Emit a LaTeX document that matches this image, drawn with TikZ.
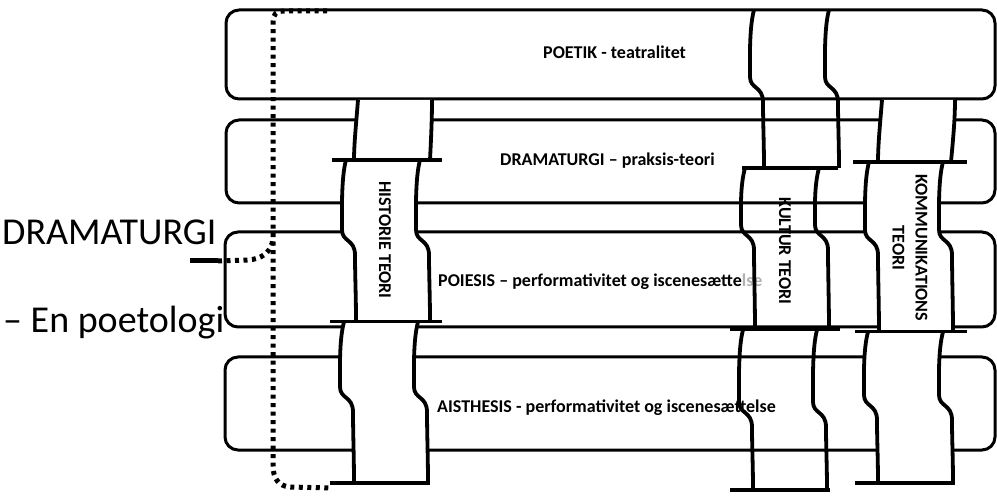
\documentclass[tikz,border=0pt]{standalone}
\usepackage{fontspec}
\setmainfont{Carlito}

% one wavy side of a ribbon piece: x, top, step, bottom
\newcommand\sidedown[4]{(#1+4,#2) .. controls (#1-1,#2+18) and (#1,#3-30) .. (#1,#3-15) .. controls (#1,#3-3) and (#1+13,#3-6) .. (#1+13,#3+10) .. controls (#1+13,#3+30) and (#1+14,#4-25) .. (#1+14,#4)}
\newcommand\sideup[4]{(#1+14,#4) .. controls (#1+14,#4-25) and (#1+13,#3+30) .. (#1+13,#3+10) .. controls (#1+13,#3-6) and (#1,#3-3) .. (#1,#3-15) .. controls (#1,#3-30) and (#1-1,#2+18) .. (#1+4,#2)}

\tikzset{
  band/.style={draw, line width=3pt, rounded corners=13pt},
  ribbon/.style={line width=3.8pt, line join=round},
  cutline/.style={line width=3.8pt},
  bandtext/.style={font=\fontsize{18}{23}\selectfont\bfseries, inner sep=0pt},
  dots/.style={line width=5pt, dash pattern=on 4pt off 4.5pt},
}

\begin{document}
\begin{tikzpicture}[x=1pt, y=-1pt]
    \useasboundingbox (0,0) rectangle (997,497);

    % Bands
    \draw[band] (226,10) rectangle (995,99);
    \draw[band] (226,120) rectangle (995,203);
    \draw[band] (225,232) rectangle (995,327);
    \draw[band] (225,357) rectangle (995,450);

    % Title
    \node[anchor=base west, inner sep=0pt, font=\fontsize{38}{40}\selectfont] (title) at (2,245) {DRAMATURGI};
    \node[anchor=base west, inner sep=0pt, font=\fontsize{38}{40}\selectfont] (subtitle) at (3,333) {– En poetologi};

    % Dotted bracket
    \coordinate (dash) at (190,261);
    \coordinate (dashend) at (218,261);
    \coordinate (topend) at (327,11);
    \coordinate (botend) at (330,488);
    \draw[line width=5pt] (dash) -- (dashend);
    \draw[dots] (topend) -- (285,11) .. controls (276,11) and (273,14) .. (273,22)
        -- (273,465) .. controls (273,478) and (278,486) .. (290,487) -- (botend);
    \draw[dots] (dashend) -- (248,260) .. controls (262,259) and (272,252) .. (273,238);

    % Historie teori
    \fill[white] (358,100) .. controls (356,125) and (354,145) .. (354,160) -- (430,160) .. controls (431,140) and (432,120) .. (432,100) -- cycle;
    \draw[ribbon] (358,100) .. controls (356,125) and (354,145) .. (354,160);
    \draw[ribbon] (432,100) .. controls (432,120) and (431,140) .. (430,160);
    \fill[white] \sidedown{342}{160}{245}{321} -- \sideup{416}{160}{245}{321} -- cycle;
    \draw[ribbon] \sidedown{342}{160}{245}{321};
    \draw[ribbon] \sidedown{416}{160}{245}{321};
    \fill[white] \sidedown{340}{322}{402}{483} -- \sideup{414}{322}{402}{483} -- cycle;
    \draw[ribbon] \sidedown{340}{322}{402}{483};
    \draw[ribbon] \sidedown{414}{322}{402}{483};
    \draw[cutline] (332,160) -- (442,160);
    \draw[cutline] (330,321.5) -- (442,321.5);
    \draw[cutline] (330,483) -- (430,483);
    \node[bandtext, rotate=-90] (historie) at (385,240) {HISTORIE TEORI};

    % Kommunikations teori
    \fill[white] (882,100) .. controls (880,125) and (878,145) .. (878,162) -- (951,162) .. controls (953,140) and (955,120) .. (955,100) -- cycle;
    \draw[ribbon] (882,100) .. controls (880,125) and (878,145) .. (878,162);
    \draw[ribbon] (955,100) .. controls (955,120) and (953,140) .. (951,162);
    \fill[white] \sidedown{865}{162}{245}{331} -- \sideup{939}{162}{245}{331} -- cycle;
    \draw[ribbon] \sidedown{865}{162}{245}{331};
    \draw[ribbon] \sidedown{939}{162}{245}{331};
    \fill[white] \sidedown{864}{332}{410}{483} -- \sideup{939}{332}{410}{483} -- cycle;
    \draw[ribbon] \sidedown{864}{332}{410}{483};
    \draw[ribbon] \sidedown{939}{332}{410}{483};
    \draw[cutline] (853,162) -- (967,162);
    \draw[cutline] (855,331.5) -- (967,331.5);
    \draw[cutline] (855,483) -- (955,483);
    \node[bandtext, rotate=-90, align=center] (kommunikation) at (910,248) {KOMMUNIKATIONS\\TEORI};

    % Band labels
    \node[bandtext, anchor=base west] (poetik) at (543,59) {POETIK - teatralitet};
    \node[bandtext, anchor=base west] (praksis) at (500,166) {DRAMATURGI – praksis-teori};
    \node[bandtext, anchor=base west] (poiesis) at (438,287) {POIESIS – performativitet og iscenesætte\textcolor{gray!60}{lse}};
    \node[bandtext, anchor=base west] (aisthesis) at (437,413) {AISTHESIS - performativitet og iscenesættelse};

    % Kultur teori (open, the bands run through it)
    \draw[ribbon] \sidedown{750}{10}{92}{168};
    \draw[ribbon] \sidedown{825}{10}{92}{168};
    \draw[ribbon] \sidedown{741}{168}{240}{329};
    \draw[ribbon] \sidedown{815}{168}{240}{329};
    \draw[ribbon] \sidedown{739}{330}{417}{490};
    \draw[ribbon] \sidedown{813}{330}{417}{490};
    \draw[cutline] (742,168) -- (838,168);
    \draw[cutline] (730,329.5) -- (840,329.5);
    \draw[cutline] (730,490) -- (830,490);
    \node[bandtext, rotate=-90] (kultur) at (785,251) {KULTUR TEORI};
\end{tikzpicture}
\end{document}
